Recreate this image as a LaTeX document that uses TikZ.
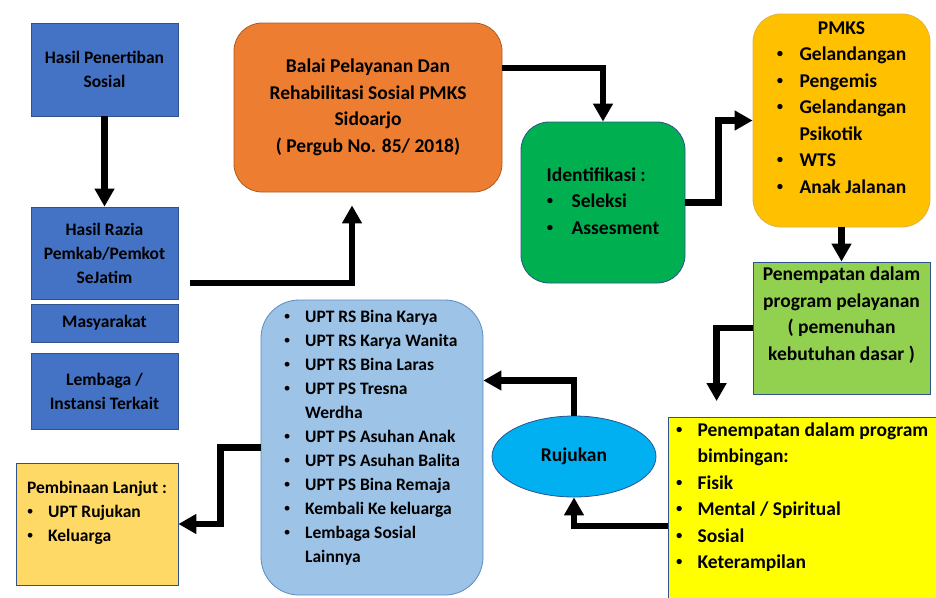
\documentclass[tikz,border=0pt]{standalone}
\usepackage{fontspec}
\setmainfont{Carlito}
\newfontfamily\bulletfont{Liberation Sans}
\usepackage{xcolor}
\usepackage{tikz}
\usetikzlibrary{arrows.meta,shapes.geometric,positioning,calc}

\definecolor{boxblue}{HTML}{4472C4}
\definecolor{edgeblue}{HTML}{2F528F}
\definecolor{boxorange}{HTML}{ED7D31}
\definecolor{edgeorange}{HTML}{AE5A21}
\definecolor{boxgreen}{HTML}{00B050}
\definecolor{boxgold}{HTML}{FFC000}
\definecolor{edgegold}{HTML}{E0B040}
\definecolor{boxlime}{HTML}{92D050}
\definecolor{boxyellow}{HTML}{FFFF00}
\definecolor{boxcyan}{HTML}{00B0F0}
\definecolor{boxsky}{HTML}{9DC3E6}
\definecolor{edgesky}{HTML}{5B8BC9}
\definecolor{boxsand}{HTML}{FFD966}

\newcommand{\smalltext}{\fontsize{17.5}{24}\selectfont\bfseries}
\newcommand{\bigtext}{\fontsize{19.5}{26.5}\selectfont\bfseries}
\newcommand{\dotb}{{\bulletfont\mdseries\textbullet}}

\begin{document}
\begin{tikzpicture}[x=1pt,y=-1pt,line join=miter]

   \tikzstyle{arr}=[-{Triangle[length=18pt,width=19pt]},line width=6.5pt]
   \tikzstyle{base}=[draw=edgeblue,line width=0.8pt,inner sep=0pt,align=center]
   \tikzstyle{bluebox}=[base,fill=boxblue,minimum width=147pt,font=\smalltext]
   \tikzstyle{roundbox}=[base,rounded corners=28pt,font=\bigtext]
   \tikzstyle{flatbox}=[base,font=\bigtext]

   \useasboundingbox (0,0) rectangle (936,597);

   % left column
   \node[bluebox,minimum height=93pt] at (104.5,69.5) (hasil) {Hasil Penertiban\\Sosial};
   \node[bluebox,minimum height=92pt] at (104.5,253) (razia) {Hasil Razia\\Pemkab/Pemkot\\SeJatim};
   \node[bluebox,minimum height=38pt] at (104.5,323) (masyarakat) {Masyarakat};
   \node[bluebox,minimum height=76pt] at (104.5,391) (lembaga) {Lembaga /\\Instansi Terkait};

   \node[roundbox,fill=boxorange,draw=edgeorange,minimum width=268pt,minimum height=169pt]
   at (368,107.5) (balai) {Balai Pelayanan Dan\\Rehabilitasi Sosial PMKS\\Sidoarjo\\( Pergub No. 85/ 2018)};

   \node[roundbox,fill=boxgreen,minimum width=164pt,minimum height=161pt] at (603,202.5) (ident)
   {\begin{tabular}{@{}c@{\hspace{18pt}}l@{}}
    \multicolumn{2}{@{}l@{}}{Identifikasi :}\\
    \dotb & Seleksi\\
    \dotb & Assesment
   \end{tabular}};

   \node[roundbox,fill=boxgold,draw=edgegold,minimum width=177pt,minimum height=213pt] at (841.5,120.5) (pmks)
   {\begin{tabular}{@{}c@{\hspace{16pt}}l@{}}
    \multicolumn{2}{c}{PMKS}\\
    \dotb & Gelandangan\\
    \dotb & Pengemis\\
    \dotb & Gelandangan\\
          & Psikotik\\
    \dotb & WTS\\
    \dotb & Anak Jalanan\\[24pt]
   \end{tabular}};

   \node[flatbox,fill=boxlime,minimum width=177pt,minimum height=130pt] at (841.5,328) (layanan)
   {\begin{tabular}{@{}c@{}}
    Penempatan dalam\\
    program pelayanan\\
    ( pemenuhan\\
    kebutuhan dasar )\\[26pt]
   \end{tabular}};

   \node[flatbox,fill=boxyellow,minimum width=268pt,minimum height=172pt] at (802,509) (bimbingan)
   {\begin{tabular}{@{}c@{\hspace{15pt}}l@{}}
    \dotb & Penempatan dalam program\\
          & bimbingan:\\
    \dotb & Fisik\\
    \dotb & Mental / Spiritual\\
    \dotb & Sosial\\
    \dotb & Keterampilan\\[24pt]
   \end{tabular}};

   \node[base,ellipse,fill=boxcyan,minimum width=164pt,minimum height=81pt,font=\bigtext]
   at (574,456.5) (rujukan) {Rujukan};

   \node[base,fill=boxsky,draw=edgesky,rounded corners=38pt,minimum width=222pt,minimum height=295pt,font=\smalltext]
   at (372,447.5) (upt)
   {\begin{tabular}{@{}c@{\hspace{15pt}}l@{}}
    \dotb & UPT RS Bina Karya\\
    \dotb & UPT RS Karya Wanita\\
    \dotb & UPT RS Bina Laras\\
    \dotb & UPT PS Tresna\\
          & Werdha\\
    \dotb & UPT PS Asuhan Anak\\
    \dotb & UPT PS Asuhan Balita\\
    \dotb & UPT PS Bina Remaja\\
    \dotb & Kembali Ke keluarga\\
    \dotb & Lembaga Sosial\\
          & Lainnya\\[20pt]
   \end{tabular}};

   \node[base,fill=boxsand,minimum width=162pt,minimum height=122pt,font=\smalltext] at (97,524) (pembinaan)
   {\begin{tabular}{@{}c@{\hspace{15pt}}l@{}}
    \multicolumn{2}{@{}l@{}}{Pembinaan Lanjut :}\\
    \dotb & UPT Rujukan\\
    \dotb & Keluarga\\[22pt]
   \end{tabular}};

   % connectors
   \draw [arr] (hasil) -- (razia);
   \draw [arr,shorten <=12pt,shorten >=13pt] ([yshift=-30pt]razia.east) -| ([xshift=-16pt]balai.south);
   \draw [arr] ([yshift=39.5pt]balai.east) -| (ident.north);
   \draw [arr] (ident.east) -- ++(33,0) |- (pmks.west);
   \draw [arr] (pmks) -- (layanan);
   \draw [arr,shorten >=16pt] (layanan.west) -| ([xshift=49pt]bimbingan.north west);
   \draw [arr] ([yshift=-17pt]bimbingan.west) -| (rujukan.south);
   \draw [arr] (rujukan.north) |- ([yshift=67pt]upt.east);
   \draw [arr] (upt.west) -- ++(-40,0) |- (pembinaan.east);

\end{tikzpicture}
\end{document}
